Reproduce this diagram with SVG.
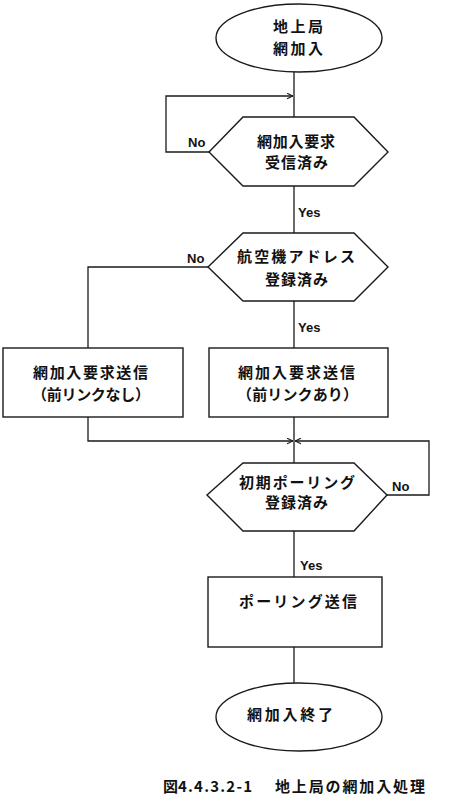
<svg xmlns="http://www.w3.org/2000/svg" width="470" height="812" viewBox="0 0 470 812">
<style>
.s{fill:#fff;stroke:#1a1a1a;stroke-width:1.4}
.c{fill:none;stroke:#1a1a1a;stroke-width:1.3}
.t{font-family:"Noto Sans CJK JP","Noto Sans",sans-serif;font-size:15px;font-weight:700;fill:#111;text-anchor:middle}
.l{font-family:"Liberation Sans","DejaVu Sans",sans-serif;font-size:13px;font-weight:700;fill:#111}
</style>
<defs>
<marker id="ah" viewBox="0 0 10 10" refX="9.5" refY="5" markerWidth="7" markerHeight="7" markerUnits="userSpaceOnUse" orient="auto">
<path d="M1,1 L9.5,5 L1,9" fill="none" stroke="#1a1a1a" stroke-width="1.6"/>
</marker>
</defs>
<rect width="470" height="812" fill="#fff"/>
<g id="connectors">
<path class="c" d="M294,72 V117"/>
<path class="c" d="M209,152 H166 V96 H293" marker-end="url(#ah)"/>
<path class="c" d="M294,186 V233"/>
<path class="c" d="M208,267 H88 V348"/>
<path class="c" d="M294,301 V348"/>
<path class="c" d="M88,417 V441 H293" marker-end="url(#ah)"/>
<path class="c" d="M294,417 V463"/>
<path class="c" d="M387,495 H429 V441 H295" marker-end="url(#ah)"/>
<path class="c" d="M294,531 V577"/>
<path class="c" d="M294,647 V683"/>
</g>
<g id="start">
<ellipse class="s" cx="299" cy="38" rx="83" ry="34"/>
<text class="t" x="298" y="32" textLength="50" lengthAdjust="spacing">地上局</text>
<text class="t" x="298" y="54" textLength="50" lengthAdjust="spacing">網加入</text>
</g>
<g id="dec1">
<polygon class="s" points="243,117 354,117 388,152 354,186 243,186 209,152"/>
<text class="t" x="296" y="147" textLength="78" lengthAdjust="spacing">網加入要求</text>
<text class="t" x="296.5" y="168" textLength="63" lengthAdjust="spacing">受信済み</text>
<text class="l" x="188" y="147">No</text>
</g>
<g id="dec2">
<polygon class="s" points="243,233 354,233 388,267 354,301 243,301 208,267"/>
<text class="t" x="296" y="262" textLength="118" lengthAdjust="spacing">航空機アドレス</text>
<text class="t" x="296.5" y="285" textLength="63" lengthAdjust="spacing">登録済み</text>
<text class="l" x="298" y="217">Yes</text>
<text class="l" x="187" y="263">No</text>
</g>
<g id="proc-nolink">
<rect class="s" x="3" y="348" width="180" height="69"/>
<text class="t" x="90.5" y="378" textLength="115" lengthAdjust="spacing">網加入要求送信</text>
<text class="t" x="91" y="400" textLength="118" lengthAdjust="spacing">（前リンクなし）</text>
</g>
<g id="proc-link">
<rect class="s" x="209" y="348" width="179" height="69"/>
<text class="t" x="296.5" y="378" textLength="117" lengthAdjust="spacing">網加入要求送信</text>
<text class="t" x="297.5" y="400" textLength="121" lengthAdjust="spacing">（前リンクあり）</text>
<text class="l" x="298" y="332">Yes</text>
</g>
<g id="dec3">
<polygon class="s" points="243,463 354,463 387,495 354,531 243,531 207,495"/>
<text class="t" x="297" y="488" textLength="116" lengthAdjust="spacing">初期ポーリング</text>
<text class="t" x="296.5" y="508" textLength="63" lengthAdjust="spacing">登録済み</text>
<text class="l" x="392" y="491">No</text>
</g>
<g id="proc-poll">
<rect class="s" x="208" y="577" width="174" height="70"/>
<text class="t" x="298" y="607" textLength="118" lengthAdjust="spacing">ポーリング送信</text>
<text class="l" x="300" y="570">Yes</text>
</g>
<g id="end">
<ellipse class="s" cx="299" cy="717" rx="83" ry="34"/>
<text class="t" x="290" y="720" textLength="86" lengthAdjust="spacing">網加入終了</text>
</g>
<g id="caption">
<text class="t" x="170.5" y="792">図</text>
<text class="t" x="215" y="792" textLength="74" lengthAdjust="spacing">4.4.3.2-1</text>
<text class="t" x="350" y="792" textLength="150" lengthAdjust="spacing">地上局の網加入処理</text>
</g>
</svg>
